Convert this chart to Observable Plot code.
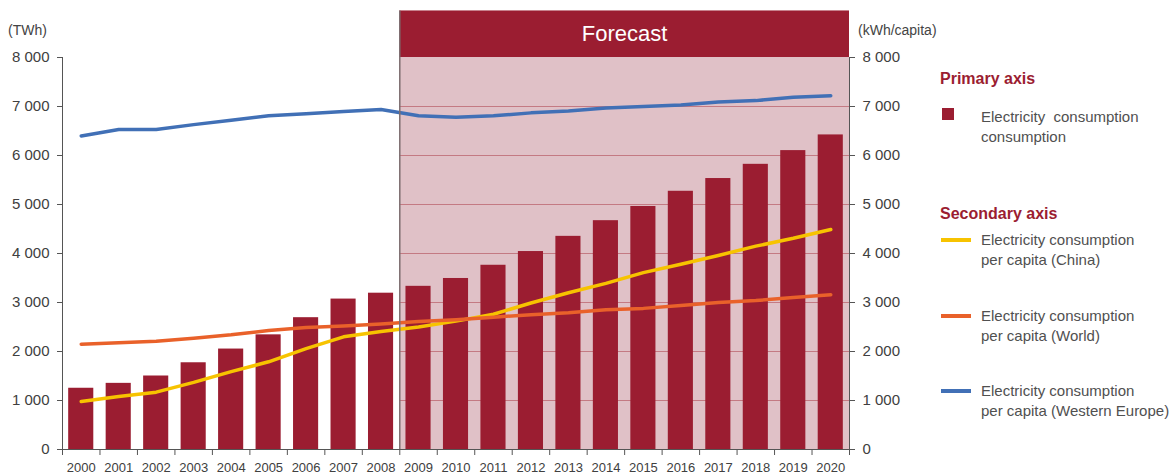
<!DOCTYPE html>
<html>
<head>
<meta charset="utf-8">
<script src="https://cdn.jsdelivr.net/npm/d3@7"></script>
<script src="https://cdn.jsdelivr.net/npm/@observablehq/plot@0.6"></script>
<style>
  body { margin: 0; background: #fff; font-family: "Liberation Sans", Arial, sans-serif; }
  #wrap { position: relative; width: 1173px; height: 475px; }
  .unit { position: absolute; font-size: 14px; color: #444; }
  .lg-head { position: absolute; left: 940px; font-size: 16px; font-weight: bold; color: #9b1d31; }
  .lg-text { position: absolute; left: 981px; font-size: 15px; line-height: 20px; color: #505050; white-space: nowrap; }
  .lg-sq { position: absolute; left: 942px; width: 12px; height: 12px; background: #9b1d31; }
  .lg-line { position: absolute; left: 941px; width: 30px; height: 4px; }
</style>
</head>
<body>
<div id="wrap"></div>
<script>
// ---- data ----
const years = [2000, 2001, 2002, 2003, 2004, 2005, 2006, 2007, 2008, 2009, 2010,
               2011, 2012, 2013, 2014, 2015, 2016, 2017, 2018, 2019, 2020];
const forecastStart = 2009;
// Primary axis (TWh)
const consumption = [1250, 1350, 1500, 1770, 2050, 2340, 2690, 3070, 3190, 3330, 3490,
                     3760, 4040, 4350, 4670, 4960, 5270, 5530, 5820, 6100, 6420];
// Secondary axis (kWh/capita)
const chinaPerCapita = [980, 1080, 1170, 1370, 1590, 1790, 2060, 2300, 2410, 2500, 2620,
                        2760, 2990, 3200, 3390, 3610, 3780, 3960, 4150, 4310, 4490];
const worldPerCapita = [2150, 2180, 2210, 2270, 2340, 2430, 2490, 2520, 2560, 2610, 2650,
                        2700, 2750, 2790, 2850, 2880, 2940, 3000, 3040, 3100, 3160];
const westernEuropePerCapita = [6400, 6530, 6530, 6630, 6720, 6810, 6850, 6900, 6940, 6810, 6780,
                                6810, 6870, 6910, 6970, 7000, 7030, 7090, 7120, 7190, 7220];
const yTicks = [0, 1000, 2000, 3000, 4000, 5000, 6000, 7000, 8000];
const gridValues = [1000, 2000, 3000, 4000, 5000, 6000, 7000];
const forecastLabel = "Forecast";
const headerTop = 8950;

// ---- build tables ----
const barData = years.map((year, i) => ({year, value: consumption[i]}));
const seriesDefs = [
  {name: "China", values: chinaPerCapita, color: "#f7c300"},
  {name: "World", values: worldPerCapita, color: "#e9612a"},
  {name: "Western Europe", values: westernEuropePerCapita, color: "#4170b6"}
];
const lineData = seriesDefs.flatMap(s => years.map((year, i) => ({series: s.name, year, value: s.values[i]})));
const xStart = years[0] - 0.5;
const xEnd = years[years.length - 1] + 0.5;
const fStart = forecastStart - 0.5;
const boundaries = d3.range(xStart, xEnd + 0.01, 1);
const fmt = d => d3.format(",")(d).replace(/,/g, " ");

const RED = "#9b1d31";
const chart = Plot.plot({
  width: 1173,
  height: 475,
  marginLeft: 62,
  marginRight: 324,
  marginTop: 57,
  marginBottom: 26,
  style: {fontFamily: "Liberation Sans, Arial, sans-serif", fontSize: "15px", color: "#404040", background: "white"},
  x: {type: "linear", domain: [xStart, xEnd]},
  y: {domain: [0, 8000]},
  marks: [
    Plot.rect([{}], {x1: () => fStart, x2: () => xEnd, y1: () => 0, y2: () => 8000, fill: "#e0c1c7"}),
    Plot.rect([{}], {x1: () => fStart, x2: () => xEnd, y1: () => 8000, y2: () => headerTop, fill: RED}),
    Plot.text([forecastLabel], {x: () => (fStart + xEnd) / 2, y: () => (8000 + headerTop) / 2, text: d => d, fill: "white", fontSize: 22}),
    Plot.ruleY(gridValues, {y: d => d, x1: () => fStart, x2: () => xEnd, stroke: "#c47a83", strokeWidth: 1.2}),
    Plot.rectY(barData, {x1: d => d.year - 0.335, x2: d => d.year + 0.335, y1: () => 0, y2: "value", fill: RED}),
    ...seriesDefs.map(s => Plot.lineY(lineData.filter(d => d.series === s.name), {
      x: "year", y: "value", stroke: s.color, strokeWidth: 3.5, curve: "linear", strokeLinejoin: "round"
    })),
    Plot.ruleX([fStart], {x: d => d, y1: () => 0, y2: () => headerTop, stroke: "#7d6e70", strokeWidth: 1.5}),
    Plot.ruleX([xStart, xEnd], {x: d => d, y1: () => 0, y2: () => 8000, stroke: "#555"}),
    Plot.ruleY([0], {y: d => d, x1: () => xStart, x2: () => xEnd, stroke: "#555"}),
    Plot.axisY({anchor: "left", ticks: yTicks, tickSize: 5, tickPadding: 8, tickFormat: fmt, label: null, stroke: "#555"}),
    Plot.axisY({anchor: "right", ticks: yTicks, tickSize: 5, tickPadding: 8, tickFormat: fmt, label: null, stroke: "#555"}),
    Plot.axisX({ticks: boundaries, tickSize: 6, tickFormat: () => "", label: null, stroke: "#555"}),
    Plot.axisX({ticks: years, tickSize: 0, tickPadding: 13, tickFormat: d => String(d), label: null, fontSize: 13})
  ]
});
const wrap = document.getElementById("wrap");
wrap.appendChild(chart);

// ---- units and legend (HTML overlay) ----
const overlay = [
  ["unit", "(TWh)", {left: "8px", top: "22px"}],
  ["unit", "(kWh/capita)", {left: "858px", top: "22px"}],
  ["lg-head", "Primary axis", {top: "70px"}],
  ["lg-text", "Electricity&nbsp; consumption<br>consumption", {top: "107px"}],
  ["lg-head", "Secondary axis", {top: "205px"}],
  ["lg-text", "Electricity consumption<br>per capita (China)", {top: "230px"}],
  ["lg-text", "Electricity consumption<br>per capita (World)", {top: "306px"}],
  ["lg-text", "Electricity consumption<br>per capita (Western Europe)", {top: "381px"}]
];
for (const [cls, html, pos] of overlay) {
  const el = document.createElement("div");
  el.className = cls;
  el.innerHTML = html;
  Object.assign(el.style, pos);
  wrap.appendChild(el);
}
const sq = document.createElement("div");
sq.className = "lg-sq"; sq.style.top = "108px"; wrap.appendChild(sq);
const lineTops = [238, 314, 389];
seriesDefs.forEach((s, i) => {
  const el = document.createElement("div");
  el.className = "lg-line";
  el.style.top = lineTops[i] + "px";
  el.style.background = s.color;
  wrap.appendChild(el);
});
</script>
</body>
</html>
